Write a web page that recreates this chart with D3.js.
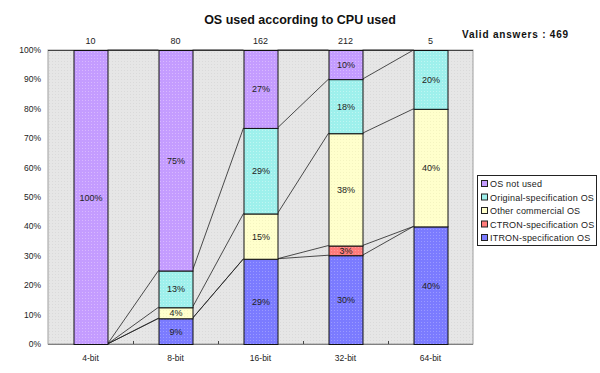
<!DOCTYPE html>
<html><head><meta charset="utf-8">
<script src="https://cdn.jsdelivr.net/npm/d3@7"></script>
<style>body{margin:0;background:#fff}svg{display:block}text{font-family:"Liberation Sans",Arial,sans-serif}</style>
</head><body><svg id="c" width="600" height="373"></svg>
<script>
const categories = ["4-bit","8-bit","16-bit","32-bit","64-bit"];
const counts = [10, 80, 162, 212, 5];
const seriesNames = ["ITRON-specification OS","CTRON-specification OS","Other commercial OS","Original-specification OS","OS not used"];
const itron    = [0, 8.75, 29.0, 30.2, 40];
const ctron    = [0, 0,    0,    3.3,  0];
const other    = [0, 3.75, 15.4, 38.2, 40];
const original = [0, 12.5, 29.1, 18.4, 20];
const notUsed  = [100, 75, 26.5, 9.9, 0];
const yTicks = [0,10,20,30,40,50,60,70,80,90,100];
const colors = ["#7b7bff","#ff7b7b","#ffffcc","#9ef0ec","#c49cff"];
const dotColors = ["#9a9aff","#ff9a9a","#f4f4c0","#bff6f2","#d8b8ff"];

const svg = d3.select("#c");
const m = {l:48, r:473, t:50, b:344};
const x = d3.scaleBand().domain(categories).range([m.l, m.r]).paddingInner(0.6).paddingOuter(0.3);
const y = d3.scaleLinear().domain([0,100]).range([m.b, m.t]);
const bw = x.bandwidth();

// patterns
const defs = svg.append("defs");
function pat(id, base, dot){
  const p = defs.append("pattern").attr("id",id).attr("width",3).attr("height",3).attr("patternUnits","userSpaceOnUse");
  p.append("rect").attr("width",3).attr("height",3).attr("fill",base);
  p.append("rect").attr("x",1).attr("y",1).attr("width",1).attr("height",1).attr("fill",dot);
}
pat("bg","#e6e6e6","#dadada");
colors.forEach((c,i)=>pat("p"+i,c,dotColors[i]));

// plot background
svg.append("rect").attr("x",m.l).attr("y",m.t).attr("width",m.r-m.l).attr("height",m.b-m.t)
  .attr("fill","url(#bg)").attr("stroke","#a0a0a0").attr("stroke-width",1);
svg.append("line").attr("x1",m.l).attr("x2",m.r).attr("y1",m.t+0.5).attr("y2",m.t+0.5).attr("stroke","#444");
svg.append("line").attr("x1",m.l).attr("x2",m.r).attr("y1",m.b+0.5).attr("y2",m.b+0.5).attr("stroke","#808080");

const rows = categories.map((c,i)=>({cat:c, s0:itron[i], s1:ctron[i], s2:other[i], s3:original[i], s4:notUsed[i]}));
const stack = d3.stack().keys(["s0","s1","s2","s3","s4"])(rows);

// connecting lines
const lg = svg.append("g");
stack.forEach(layer=>{
  for(let i=0;i<categories.length-1;i++){
    lg.append("line")
      .attr("x1", x(categories[i])+bw).attr("y1", y(layer[i][1]))
      .attr("x2", x(categories[i+1])).attr("y2", y(layer[i+1][1]))
      .attr("stroke","#222").attr("stroke-width",0.8);
  }
});

// bars
stack.forEach((layer,k)=>{
  const g = svg.append("g");
  layer.forEach((d,i)=>{
    const v = d[1]-d[0];
    if (v<=0) return;
    g.append("rect").attr("x",x(categories[i])+0.5).attr("y",y(d[1])+0.5)
      .attr("width",bw).attr("height",y(d[0])-y(d[1]))
      .attr("fill","url(#p"+k+")").attr("stroke","#111").attr("stroke-width",1);
    g.append("text").attr("x",x(categories[i])+bw/2+0.5).attr("y",(y(d[0])+y(d[1]))/2+3.5)
      .attr("text-anchor","middle").attr("font-size",9).attr("fill","#222")
      .text(Math.round(v)+"%");
  });
});

// x ticks (between categories)
for(let i=1;i<categories.length;i++){
  const tx = Math.round(x(categories[i]) - x.step()*x.paddingInner()/2);
  svg.append("line").attr("x1",tx+0.5).attr("x2",tx+0.5).attr("y1",m.b).attr("y2",m.b-3).attr("stroke","#444");
}
// y labels
svg.append("g").selectAll("text").data(yTicks).join("text")
  .attr("x",41).attr("y",d=>y(d)+3).attr("text-anchor","end").attr("font-size",8.5).attr("fill","#222")
  .text(d=>d+"%");
// x labels
svg.append("g").selectAll("text").data(categories).join("text")
  .attr("x",d=>x(d)+bw/2).attr("y",361).attr("text-anchor","middle").attr("font-size",8.5).attr("fill","#222")
  .text(d=>d);
// counts
svg.append("g").selectAll("text").data(counts).join("text")
  .attr("x",(d,i)=>x(categories[i])+bw/2).attr("y",44).attr("text-anchor","middle").attr("font-size",9).attr("fill","#222")
  .text(d=>d);
// title
svg.append("text").attr("x",300).attr("y",24).attr("text-anchor","middle").attr("font-size",12.5).attr("font-weight","bold").attr("fill","#111")
  .text("OS used according to CPU used");
svg.append("text").attr("x",462).attr("y",38).attr("font-size",10).attr("letter-spacing",0.8).attr("font-weight","bold").attr("fill","#111")
  .text("Valid answers : 469");

// legend
const leg = svg.append("g");
leg.append("rect").attr("x",477.5).attr("y",175.5).attr("width",119).attr("height",70).attr("fill","#fff").attr("stroke","#222");
const legOrder = [4,3,2,1,0];
legOrder.forEach((k,j)=>{
  const ly = 184 + j*13.5;
  leg.append("rect").attr("x",481.5).attr("y",ly-3.5).attr("width",6).attr("height",6).attr("fill",colors[k]).attr("stroke","#222");
  leg.append("text").attr("x",490).attr("y",ly+3).attr("font-size",9).attr("letter-spacing",0.2).attr("fill","#222").text(seriesNames[k]);
});
</script></body></html>
